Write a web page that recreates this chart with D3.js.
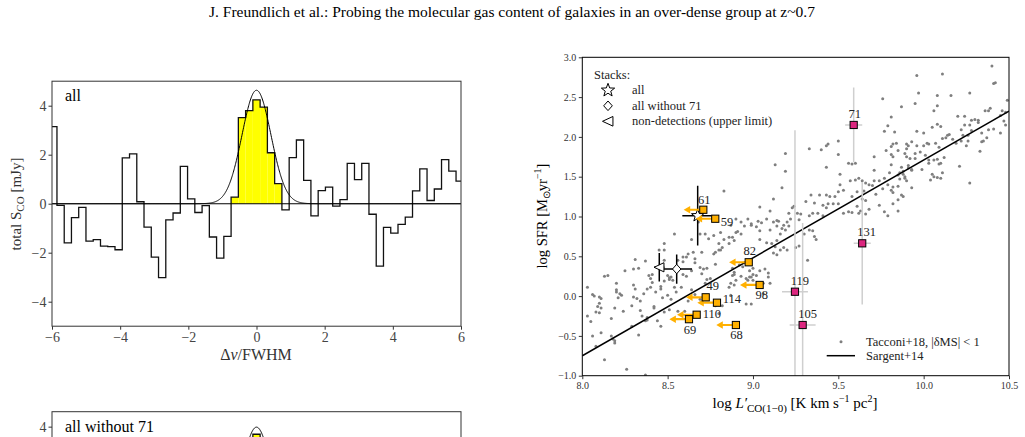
<!DOCTYPE html>
<html>
<head>
<meta charset="utf-8">
<script src="https://cdn.jsdelivr.net/npm/d3@7"></script>
<style>
  body { margin: 0; background: #fff; }
  svg { display: block; font-family: "Liberation Serif", "Times New Roman", serif; }
  svg text { font-family: "Liberation Serif", "Times New Roman", serif; }
</style>
</head>
<body>
<script>
// ---------------- data ----------------
const pageTitle = 'J. Freundlich et al.: Probing the molecular gas content of galaxies in an over-dense group at z~0.7';

// stacked spectrum "all" (velocity in units of FWHM, flux in mJy)
const chanWidth = 0.2129;
const velocityAll = [-5.961, -5.748, -5.535, -5.323, -5.110, -4.897, -4.684, -4.471, -4.258, -4.045,
  -3.832, -3.619, -3.406, -3.194, -2.981, -2.768, -2.555, -2.342, -2.129, -1.916,
  -1.703, -1.490, -1.277, -1.065, -0.852, -0.639, -0.426, -0.213, 0, 0.213,
  0.426, 0.639, 0.852, 1.065, 1.277, 1.490, 1.703, 1.916, 2.129, 2.342,
  2.555, 2.768, 2.981, 3.194, 3.406, 3.619, 3.832, 4.045, 4.258, 4.471,
  4.684, 4.897, 5.110, 5.323, 5.535, 5.748, 5.961];
const fluxAll = [3.15, -0.07, -1.6, -0.57, -0.15, -1.53, -1.47, -1.73, -1.75, -1.88,
  1.87, 2.03, 0.08, -0.96, -2.18, -3.02, -0.66, -0.38, 1.52, 0.2,
  -0.36, -0.08, -1.36, -2.22, -1.33, 0.27, 3.51, 3.8, 4.24, 3.94,
  2.08, 0.82, -0.25, 1.88, 2.6, 0.95, -0.5, 0.53, 0.68, -0.1,
  0.17, 1.65, 0.98, 1.65, -0.43, -2.55, -0.97, -1.2, -0.84, -0.55,
  0.52, 1.42, 0.13, 0.6, 1.8, 1.33, 0.92];
const gaussAmpAll = 4.63;
const gaussFwhm = 1;
const lineWindow = 0.75;

// stacked spectrum "all without 71" (only its top is visible)
const velocityNo71 = [-0.213, 0, 0.213];
const fluxNo71 = [3.35, 3.69, 3.3];
const gaussAmpNo71 = 3.98;

const specXTicks = [-6, -4, -2, 0, 2, 4, 6];
const specYTicks = [-4, -2, 0, 2, 4];

// Tacconi+18 main-sequence galaxies [log L'CO, log SFR]
const tacconiPoints = [
  [8.83,1.32],
  [9.19,1.79],[9.13,1.65],[9.19,1.57],[9.17,1.36],[9.12,1.22],[9.04,1.12],[9.10,1.07],[9.21,1.04],[9.23,1.11],[9.24,1.13],
  [9.33,1.85],[9.40,1.84],[9.43,1.89],[9.44,1.91],[9.50,1.95],[9.50,1.78],[9.43,1.62],[9.56,1.67],[9.58,1.66],[9.60,1.67],
  [9.51,1.53],[9.57,1.45],[9.60,1.46],[9.62,1.48],[9.64,1.45],[9.66,1.42],[9.68,1.40],[9.51,1.40],[9.53,1.33],[9.50,1.31],
  [9.61,1.31],[9.58,1.25],[9.34,1.27],[9.39,1.27],[9.36,1.17],[9.31,1.19],[9.43,1.27],[9.45,1.25],[9.48,1.25],[9.41,1.14],
  [9.44,1.16],[9.43,1.11],[9.47,1.16],[9.50,1.16],[9.65,1.32],[9.64,1.22],[9.66,1.20],[9.61,1.13],[9.63,1.07],[9.58,1.05],
  [9.62,1.04],[9.56,1.06],[9.35,1.04],[9.33,1.01],[9.28,1.03],[9.26,1.04],[9.38,1.04],[9.41,1.01],[9.53,1.04],[9.66,1.03],[9.68,1.09],
  [10.40,2.89],[10.42,2.68],[10.41,2.67],[10.11,2.79],[9.96,2.77],[9.76,2.48],[9.97,2.55],[9.95,2.42],[9.87,2.38],[10.08,2.52],
  [10.16,2.52],[10.27,2.55],[10.08,2.39],[10.06,2.33],[10.20,2.26],[10.24,2.26],[10.28,2.21],[10.30,2.22],[10.32,2.21],[10.32,2.18],
  [10.36,2.33],[10.38,2.33],[10.39,2.36],[10.46,2.33],[10.45,2.27],[10.48,2.31],[10.49,2.46],[9.81,2.25],[9.79,2.14],[9.77,2.07],
  [9.83,2.06],[9.96,2.07],[10.00,2.05],[10.05,2.12],[10.08,2.16],[10.10,2.13],[10.15,2.03],[10.14,2.02],[10.13,1.99],[10.11,1.98],
  [10.07,1.92],[10.09,1.87],[10.03,1.91],[10.02,1.92],[10.00,1.89],[9.96,1.89],[9.93,1.94],[9.90,1.91],[9.91,1.89],[9.90,1.85],
  [9.82,1.91],[9.84,1.92],[9.81,1.88],[9.78,1.83],[9.81,1.78],[9.82,1.75],[9.85,1.83],[9.89,1.79],[9.90,1.75],[9.92,1.73],
  [9.95,1.73],[9.95,1.79],[9.98,1.81],[10.01,1.77],[10.03,1.71],[10.03,1.67],[10.06,1.71],[10.08,1.72],[10.10,1.67],[10.12,1.74],
  [10.09,1.66],[10.17,1.97],[10.19,1.92],[10.22,1.95],[10.22,2.09],[10.24,2.15],[10.27,2.15],[10.28,2.08],[10.34,2.05],[10.38,2.09],
  [10.41,2.10],[10.45,2.05],[10.47,2.20],[10.48,2.15],[10.26,2.02],[10.26,1.95],[10.25,1.89],[10.23,2.02],[10.34,1.94],[10.35,1.95],
  [10.37,1.99],[10.33,1.82],[10.21,1.63],[9.71,1.75],[9.71,1.58],[9.71,1.45],[9.70,1.39],[9.74,1.45],[9.77,1.48],[9.79,1.40],
  [9.80,1.55],[9.81,1.65],[9.85,1.52],[9.86,1.55],[9.88,1.53],[9.89,1.50],[9.89,1.48],[9.90,1.45],[9.86,1.47],[9.88,1.57],
  [9.93,1.58],[9.91,1.61],[9.93,1.59],[9.99,1.59],[10.05,1.53],[10.06,1.50],[10.08,1.49],[10.11,1.55],[10.04,1.46],[10.10,1.48],
  [10.27,1.42],[9.76,1.35],[9.82,1.37],[9.85,1.38],[9.82,1.30],[9.81,1.33],[9.72,1.28],[9.74,1.14],[9.77,1.06],[9.79,1.01],
  [9.82,1.16],[9.85,1.21],[9.87,1.27],[9.88,1.25],[9.85,1.07],[9.93,1.36],[9.91,1.64],[9.87,1.62],
  [8.03,0.11],[8.06,0.02],[8.07,0.00],[8.10,-0.01],[8.11,-0.03],[8.09,-0.13],[8.10,-0.09],[8.11,-0.15],[8.08,-0.20],[8.10,-0.21],
  [8.03,-0.25],[8.05,-0.32],[8.06,-0.50],[8.11,-0.46],[8.17,-0.50],[8.18,-0.54],[8.19,-0.56],[8.19,-0.59],[8.08,-0.63],[8.13,-0.80],
  [8.26,-0.92],[8.37,-0.99],[8.13,0.25],[8.15,0.26],[8.20,0.16],[8.20,0.08],[8.20,0.05],[8.21,-0.02],[8.19,-0.15],[8.17,-0.28],
  [8.22,0.03],[8.23,0.01],[8.25,0.32],[8.30,0.14],[8.31,0.09],[8.30,-0.01],[8.32,-0.03],[8.34,-0.06],[8.36,0.03],[8.38,0.09],
  [8.40,0.11],[8.41,0.17],[8.41,0.27],[8.39,0.26],[8.40,0.22],[8.31,0.46],[8.30,0.34],[8.33,0.35],[8.37,0.44],[8.45,0.58],
  [8.48,0.58],[8.48,0.66],[8.48,0.45],[8.46,0.09],[8.46,0.12],[8.51,0.23],[8.51,0.21],[8.52,0.24],[8.50,0.26],[8.53,0.20],
  [8.48,0.19],[8.43,0.05],[8.47,-0.02],[8.50,0.01],[8.52,-0.04],[8.24,-0.19],[8.29,-0.12],[8.34,-0.18],[8.35,-0.25],[8.37,-0.31],
  [8.38,-0.27],[8.42,-0.15],[8.42,-0.13],[8.44,-0.31],[8.29,-0.38],[8.33,-0.49],[8.46,-0.38],[8.56,0.45],[8.59,0.49],[8.59,0.43],
  [8.62,0.53],[8.65,0.55],[8.70,0.55],[8.66,0.42],[8.69,0.36],[8.70,0.28],[8.59,0.27],[8.61,0.25],[8.64,0.32],[8.71,0.34],
  [8.73,0.35],[8.73,0.21],[8.75,0.22],[8.72,0.16],[8.78,0.40],[8.77,0.53],[8.78,0.55],[8.80,0.58],[8.81,0.58],[8.82,0.61],
  [8.80,0.66],[8.83,0.71],[8.77,0.76],[8.81,0.80],[8.64,0.71],[8.69,0.78],[8.72,0.78],[8.74,0.72],[8.68,0.93],[8.61,0.49],
  [8.66,0.47],[8.54,0.11],[8.55,0.05],[8.62,-0.06],[8.56,-0.19],[8.60,-0.19],[8.69,-0.04],[8.73,-0.04],[8.78,-0.12],[8.80,-0.22],
  [8.82,-0.12],[8.66,0.02],[8.58,0.11],[8.64,0.08],[8.51,-0.17],[8.48,-0.20],[8.38,-0.30],[8.54,0.78],
  [8.87,0.89],[8.93,0.93],[8.97,0.97],[8.99,0.91],[9.02,0.87],[8.90,0.80],[8.91,0.81],[8.93,0.78],[8.88,0.74],[8.86,0.74],
  [8.89,0.70],[8.99,0.89],[9.04,0.82],[9.04,0.71],[9.08,0.67],[9.10,0.83],[9.12,0.93],[9.14,0.88],[9.15,0.94],[9.17,0.85],
  [9.18,0.89],[9.19,0.83],[9.16,0.78],[9.20,0.93],[9.22,0.97],[9.14,0.70],[9.13,0.62],[9.14,0.52],[9.16,0.58],[9.18,0.61],
  [9.20,0.58],[9.12,0.54],[9.11,0.66],[9.21,0.88],[9.25,0.61],[9.27,0.63],[9.32,0.45],[9.30,0.78],[9.27,0.96],[9.33,0.83],
  [9.35,0.82],[9.36,0.75],[9.37,0.71],[8.88,0.26],[8.89,0.27],[8.90,0.20],[8.87,0.16],[8.89,0.14],[8.86,0.11],[8.93,0.25],
  [8.96,0.22],[8.98,0.24],[8.98,0.32],[9.00,0.27],[9.04,0.32],[9.02,0.26],[9.07,0.34],[9.09,0.29],[9.09,0.24],[9.10,0.16],
  [9.06,0.16],[9.06,0.03],[9.00,0.20],[8.97,0.20],[8.99,0.24],[8.96,-0.10],[8.99,-0.10],[8.87,0.01],[8.95,0.42],[8.94,0.37],
  [9.00,0.35],[8.88,0.35],[8.89,0.30],[8.92,0.39],[9.14,0.95],[9.03,0.94],[9.08,0.97],[9.05,0.92],[8.95,0.88],[8.90,0.97],[8.86,0.66]
];

// Sargent+14 relation (end points)
const sargentLogL = [8.0, 10.5];
const sargentLogSfr = [-0.75, 2.325];

// CO non-detections (upper limits on L'CO)
const limitIds = ['61', '59', '82', '98', '49', '114', '110', '69', '68'];
const limitLogL = [8.709, 8.779, 8.975, 9.039, 8.723, 8.789, 8.670, 8.625, 8.900];
const limitLogSfr = [1.085, 0.972, 0.425, 0.140, -0.015, -0.083, -0.234, -0.290, -0.363];
const limitArrow = 0.115;

// CO detections
const detIds = ['71', '131', '119', '105'];
const detLogL = [9.590, 9.640, 9.246, 9.291];
const detLogSfr = [2.150, 0.663, 0.055, -0.363];
const detErrL = [0.05, 0.05, 0.076, 0.076];
const detErrSfr = [0.47, 0.77, 2.03, 1.28];

// stacks
const stackNames = ['all', 'all without 71', 'non-detections (upper limit)'];
const stackLogL = [8.676, 8.553, 8.451];
const stackLogSfr = [1.01, 0.34, 0.362];
const stackErrL = [0.09, 0.09, 0.03];
const stackErrSfr = [0.375, 0.184, 0.18];

const sfrXTicks = [8.0, 8.5, 9.0, 9.5, 10.0, 10.5];
const sfrYTicks = [-1.0, -0.5, 0.0, 0.5, 1.0, 1.5, 2.0, 2.5, 3.0];

// label placement (pixels from marker centre)
const labelPos = {
  '61': [1, -6, 'middle'], '59': [5.5, 7, 'start'], '82': [1, -7.3, 'middle'],
  '98': [2, 14, 'middle'], '49': [7, -7.3, 'middle'], '114': [5.7, 0, 'start'],
  '110': [6, 3.6, 'start'], '69': [1, 14.7, 'middle'], '68': [0.7, 14.3, 'middle'],
  '71': [1, -7, 'middle'], '131': [4.5, -7.6, 'middle'], '119': [5, -7, 'middle'], '105': [5, -7, 'middle']
};

const orange = '#FFB000';
const magenta = '#DC267F';
const serif = '"Liberation Serif", "Times New Roman", serif';

// ---------------- page ----------------
const svg = d3.select('body').append('svg')
  .attr('width', 1025)
  .attr('height', 437);

svg.append('text')
  .attr('x', 512).attr('y', 17)
  .attr('text-anchor', 'middle')
  .style('font-size', '15.5px')
  .text(pageTitle);

const fmtMinus = d => d < 0 ? '\u2212' + Math.abs(d) : String(d);

function styleAxis(a, size, color) {
  a.attr('font-family', serif);
  a.select('.domain').remove();
  a.selectAll('text').style('font-size', size).style('font-family', serif).attr('fill', color);
  a.selectAll('line').attr('stroke', '#333');
}

function drawSpectrum(box, yDomain, vel, flux, amp, name, withXAxis, clipId) {
  const x = d3.scaleLinear().domain([-6, 6]).range([box.left, box.right]);
  const y = d3.scaleLinear().domain(yDomain).range([box.bottom, box.top]);
  const g = svg.append('g');

  svg.append('clipPath').attr('id', clipId).append('rect')
    .attr('x', box.left).attr('y', box.top)
    .attr('width', box.right - box.left).attr('height', box.bottom - box.top);

  const inner = g.append('g').attr('clip-path', `url(#${clipId})`);

  // highlighted line channels
  inner.selectAll('rect.line')
    .data(vel.map((v, i) => [v, flux[i]]).filter(d => Math.abs(d[0]) < lineWindow))
    .enter().append('rect')
    .attr('x', d => x(d[0] - chanWidth / 2))
    .attr('width', x(chanWidth) - x(0))
    .attr('y', d => y(Math.max(0, d[1])))
    .attr('height', d => Math.abs(y(d[1]) - y(0)))
    .attr('fill', '#ffff00');

  const stepPts = vel.map((v, i) => [v - chanWidth / 2, flux[i]]);
  stepPts.push([vel[vel.length - 1] + chanWidth / 2, flux[flux.length - 1]]);
  inner.append('path')
    .attr('d', d3.line().x(d => x(d[0])).y(d => y(d[1])).curve(d3.curveStepAfter)(stepPts))
    .attr('fill', 'none').attr('stroke', '#111').attr('stroke-width', 1.3);

  inner.append('line')
    .attr('x1', x(-6)).attr('x2', x(6)).attr('y1', y(0)).attr('y2', y(0))
    .attr('stroke', '#000').attr('stroke-width', 1.1);

  const gauss = d3.range(-6, 6.001, 0.01).map(v => [v, amp * Math.exp(-4 * Math.LN2 * v * v / (gaussFwhm * gaussFwhm))]);
  inner.append('path')
    .attr('d', d3.line().x(d => x(d[0])).y(d => y(d[1]))(gauss))
    .attr('fill', 'none').attr('stroke', '#000').attr('stroke-width', 1);

  g.append('rect')
    .attr('x', box.left).attr('y', box.top)
    .attr('width', box.right - box.left).attr('height', box.bottom - box.top)
    .attr('fill', 'none').attr('stroke', '#333').attr('stroke-width', 1);

  // only ticks that fall inside the page
  const yTicks = specYTicks.filter(t => y(t) < 432);
  const ya = g.append('g').attr('transform', `translate(${box.left},0)`)
    .call(d3.axisLeft(y).tickValues(yTicks).tickSize(3.5).tickPadding(2).tickFormat(fmtMinus));
  styleAxis(ya, '14px', '#444');

  if (withXAxis) {
    const xa = g.append('g').attr('transform', `translate(0,${box.bottom})`)
      .call(d3.axisBottom(x).tickValues(specXTicks).tickSize(3.5).tickPadding(2).tickFormat(fmtMinus));
    styleAxis(xa, '14px', '#444');
  }

  g.append('text')
    .attr('x', box.left + 13).attr('y', box.top + 20)
    .style('font-size', '16px')
    .text(name);
}

drawSpectrum({ left: 52, right: 461, top: 81.2, bottom: 326.2 }, [-5, 5], velocityAll, fluxAll, gaussAmpAll, 'all', true, 'clipA');
drawSpectrum({ left: 52, right: 461, top: 411.7, bottom: 656.7 }, [-5.39, 4.61], velocityNo71, fluxNo71, gaussAmpNo71, 'all without 71', false, 'clipB');

// spectrum axis labels
const specXLab = svg.append('text')
  .attr('x', 256).attr('y', 360)
  .attr('text-anchor', 'middle')
  .attr('fill', '#333')
  .style('font-size', '16px');
specXLab.append('tspan').text('\u0394');
specXLab.append('tspan').style('font-style', 'italic').text('v');
specXLab.append('tspan').text('/FWHM');

const specYLab = svg.append('text')
  .attr('transform', 'translate(21,204) rotate(-90)')
  .attr('text-anchor', 'middle')
  .attr('fill', '#333')
  .style('font-size', '15px');
specYLab.append('tspan').text('total S');
specYLab.append('tspan').attr('dy', 3).style('font-size', '11px').text('CO');
specYLab.append('tspan').attr('dy', -3).text(' [mJy]');

// ---------------- SFR vs L'CO panel ----------------
const pb = { left: 582.3, right: 1009, top: 57.3, bottom: 375.7 };
const xr = d3.scaleLinear().domain([8, 10.5]).range([pb.left, pb.right]);
const yr = d3.scaleLinear().domain([-1, 3]).range([pb.bottom, pb.top]);

svg.append('clipPath').attr('id', 'clipR').append('rect')
  .attr('x', pb.left).attr('y', pb.top)
  .attr('width', pb.right - pb.left).attr('height', pb.bottom - pb.top);

const pg = svg.append('g').attr('clip-path', 'url(#clipR)');

pg.selectAll('circle.tac')
  .data(tacconiPoints)
  .enter().append('circle')
  .attr('cx', d => xr(d[0]))
  .attr('cy', d => yr(d[1]))
  .attr('r', 1.5)
  .attr('fill', '#7f7f7f');

pg.append('line')
  .attr('x1', xr(sargentLogL[0])).attr('y1', yr(sargentLogSfr[0]))
  .attr('x2', xr(sargentLogL[1])).attr('y2', yr(sargentLogSfr[1]))
  .attr('stroke', '#000').attr('stroke-width', 1.5);

// detection error bars
detIds.forEach((id, i) => {
  pg.append('line')
    .attr('x1', xr(detLogL[i])).attr('x2', xr(detLogL[i]))
    .attr('y1', yr(detLogSfr[i] - detErrSfr[i])).attr('y2', yr(detLogSfr[i] + detErrSfr[i]))
    .attr('stroke', '#cfcfcf').attr('stroke-width', 1.5);
  pg.append('line')
    .attr('x1', xr(detLogL[i] - detErrL[i])).attr('x2', xr(detLogL[i] + detErrL[i]))
    .attr('y1', yr(detLogSfr[i])).attr('y2', yr(detLogSfr[i]))
    .attr('stroke', '#cfcfcf').attr('stroke-width', 1.5);
});

// stack markers
const starPath = (R, r) => {
  const pts = [];
  for (let k = 0; k < 10; k++) {
    const a = -Math.PI / 2 + k * Math.PI / 5;
    const rad = k % 2 === 0 ? R : r;
    pts.push([rad * Math.cos(a), rad * Math.sin(a)]);
  }
  return 'M' + pts.map(p => p.join(',')).join('L') + 'Z';
};
const diamondPath = r => `M0,${-r}L${r * 0.9},0L0,${r}L${-r * 0.9},0Z`;
const triPath = s => `M${-s},0L${s * 0.9},${-s * 0.88}L${s * 0.9},${s * 0.88}Z`;
const stackShapes = [starPath(6.5, 2.7), diamondPath(4.7), triPath(5.2)];
const legendShapes = [starPath(7, 2.9), diamondPath(4.8), triPath(5.5)];

stackNames.forEach((n, i) => {
  pg.append('line')
    .attr('x1', xr(stackLogL[i])).attr('x2', xr(stackLogL[i]))
    .attr('y1', yr(stackLogSfr[i] - stackErrSfr[i])).attr('y2', yr(stackLogSfr[i] + stackErrSfr[i]))
    .attr('stroke', '#000').attr('stroke-width', 1.5);
  pg.append('line')
    .attr('x1', xr(stackLogL[i] - stackErrL[i])).attr('x2', xr(stackLogL[i] + stackErrL[i]))
    .attr('y1', yr(stackLogSfr[i])).attr('y2', yr(stackLogSfr[i]))
    .attr('stroke', '#000').attr('stroke-width', 1.5);
  pg.append('path')
    .attr('d', stackShapes[i])
    .attr('transform', `translate(${xr(stackLogL[i])},${yr(stackLogSfr[i])})`)
    .attr('fill', '#fff').attr('stroke', '#000').attr('stroke-width', 1);
});

// upper-limit arrows and squares
limitIds.forEach((id, i) => {
  const x0 = xr(limitLogL[i]), y0 = yr(limitLogSfr[i]);
  const x1 = xr(limitLogL[i] - limitArrow);
  pg.append('line')
    .attr('x1', x0).attr('x2', x1 + 5).attr('y1', y0).attr('y2', y0)
    .attr('stroke', orange).attr('stroke-width', 2.2);
  pg.append('path')
    .attr('d', `M${x1},${y0}L${x1 + 6.5},${y0 - 3.8}L${x1 + 6.5},${y0 + 3.8}Z`)
    .attr('fill', orange);
});

const squares = limitIds.map((id, i) => ({ id, x: limitLogL[i], y: limitLogSfr[i], c: orange }))
  .concat(detIds.map((id, i) => ({ id, x: detLogL[i], y: detLogSfr[i], c: magenta })));

pg.selectAll('rect.sq')
  .data(squares)
  .enter().append('rect')
  .attr('x', d => xr(d.x) - 3.6)
  .attr('y', d => yr(d.y) - 3.6)
  .attr('width', 7.2).attr('height', 7.2)
  .attr('fill', d => d.c)
  .attr('stroke', '#000').attr('stroke-width', 1);

pg.selectAll('text.lab')
  .data(squares)
  .enter().append('text')
  .attr('x', d => xr(d.x) + labelPos[d.id][0])
  .attr('y', d => yr(d.y) + labelPos[d.id][1])
  .attr('text-anchor', d => labelPos[d.id][2])
  .style('font-size', '12.5px')
  .attr('fill', '#222')
  .text(d => d.id);

// frame and axes
svg.append('rect')
  .attr('x', pb.left).attr('y', pb.top)
  .attr('width', pb.right - pb.left).attr('height', pb.bottom - pb.top)
  .attr('fill', 'none').attr('stroke', '#000').attr('stroke-width', 1);

const fmt1 = d3.format('.1f');
const rx = svg.append('g').attr('transform', `translate(0,${pb.bottom})`)
  .call(d3.axisBottom(xr).tickValues(sfrXTicks).tickSize(3.5).tickPadding(2.5).tickFormat(fmt1));
styleAxis(rx, '10px', '#333');

const ry = svg.append('g').attr('transform', `translate(${pb.left},0)`)
  .call(d3.axisLeft(yr).tickValues(sfrYTicks).tickSize(3.5).tickPadding(2.5).tickFormat(fmt1));
styleAxis(ry, '10px', '#333');

const sfrXLab = svg.append('text')
  .attr('x', 795).attr('y', 408)
  .attr('text-anchor', 'middle')
  .style('font-size', '15px');
sfrXLab.append('tspan').text('log ');
sfrXLab.append('tspan').style('font-style', 'italic').text('L\u2032');
sfrXLab.append('tspan').attr('dy', 4).style('font-size', '11px').text('CO(1\u22120)');
sfrXLab.append('tspan').attr('dy', -4).text(' [K km s');
sfrXLab.append('tspan').attr('dy', -6).style('font-size', '10px').text('\u22121');
sfrXLab.append('tspan').attr('dy', 6).text(' pc');
sfrXLab.append('tspan').attr('dy', -6).style('font-size', '10px').text('2');
sfrXLab.append('tspan').attr('dy', 6).text(']');

const sfrYLab = svg.append('text')
  .attr('transform', 'translate(547,216) rotate(-90)')
  .attr('text-anchor', 'middle')
  .style('font-size', '14.5px');
sfrYLab.append('tspan').text('log SFR [M');
sfrYLab.append('tspan').attr('dy', 3).style('font-size', '10px').text('\u2299');
sfrYLab.append('tspan').attr('dy', -3).text('yr');
sfrYLab.append('tspan').attr('dy', -6).style('font-size', '10px').text('\u22121');
sfrYLab.append('tspan').attr('dy', 6).text(']');

// stacks legend
svg.append('text').attr('x', 594).attr('y', 79).style('font-size', '12.5px').attr('fill', '#222').text('Stacks:');
stackNames.forEach((n, i) => {
  const cy = 90.3 + i * 15.5;
  svg.append('path')
    .attr('d', legendShapes[i])
    .attr('transform', `translate(608,${cy})`)
    .attr('fill', '#fff').attr('stroke', '#000').attr('stroke-width', 1);
  svg.append('text').attr('x', 632).attr('y', cy + 4)
    .style('font-size', '12.5px').attr('fill', '#222').text(n);
});

// bottom-right legend
svg.append('circle').attr('cx', 841).attr('cy', 341.7).attr('r', 1.5).attr('fill', '#7f7f7f');
svg.append('text').attr('x', 866).attr('y', 345.8).style('font-size', '12.5px').attr('fill', '#222')
  .text('Tacconi+18, |\u03b4MS| < 1');
svg.append('line').attr('x1', 826.7).attr('x2', 855).attr('y1', 355.7).attr('y2', 355.7)
  .attr('stroke', '#000').attr('stroke-width', 1.5);
svg.append('text').attr('x', 866).attr('y', 360.3).style('font-size', '12.5px').attr('fill', '#222')
  .text('Sargent+14');
</script>
</body>
</html>
